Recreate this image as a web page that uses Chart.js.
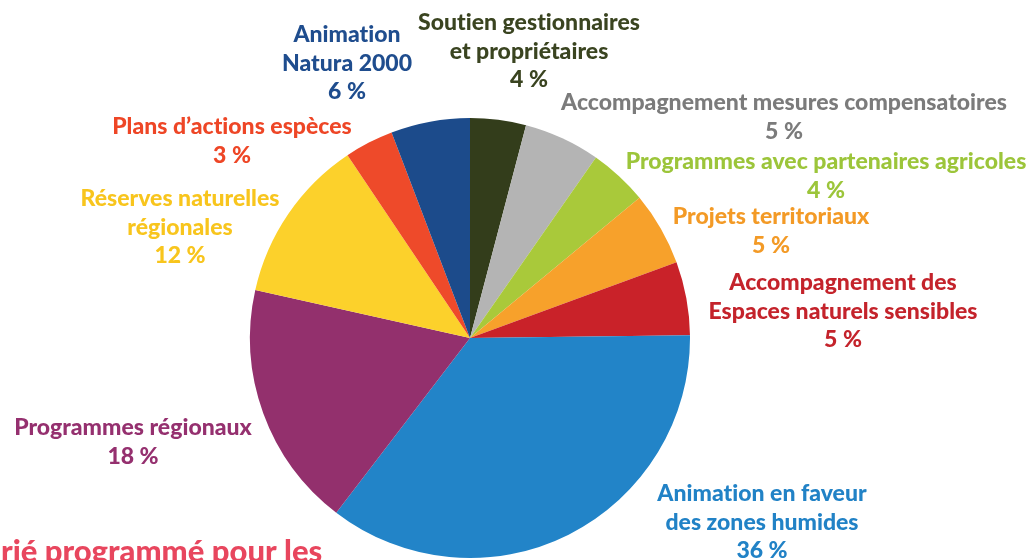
<!DOCTYPE html>
<html lang="fr">
<head>
  <meta charset="UTF-8">
  <title>Répartition</title>
  <style>
    html, body { margin: 0; padding: 0; background: #fff; }
    #wrap { width: 1032px; height: 560px; position: relative; }
  </style>
  <script src="https://cdn.jsdelivr.net/npm/chart.js"></script>
</head>
<body>
  <div id="wrap"><canvas id="camembert"></canvas></div>
  <script>
    // Catégories (dans l'ordre des aiguilles d'une montre, depuis midi)
    const categories = [
      ['Soutien gestionnaires', 'et propriétaires'],
      ['Accompagnement mesures compensatoires'],
      ['Programmes avec partenaires agricoles'],
      ['Projets territoriaux'],
      ['Accompagnement des', 'Espaces naturels sensibles'],
      ['Animation en faveur', 'des zones humides'],
      ['Programmes régionaux'],
      ['Réserves naturelles', 'régionales'],
      ['Plans d\u2019actions espèces'],
      ['Animation', 'Natura 2000']
    ];
    // Parts mesurées sur le graphique (%)
    const parts = [4.1, 5.6, 4.3, 5.4, 5.4, 35.6, 18.1, 12.1, 3.6, 5.8];
    // Pourcentages imprimés
    const pourcentages = [4, 5, 4, 5, 5, 36, 18, 12, 3, 6];

    const couleurs = ['#333d1b', '#b4b4b4', '#a9c93a', '#f7a12b', '#c92229', '#2284c8', '#93306d', '#fcd12b', '#ee4a2a', '#1c4b8b'];
    const couleursTexte = ['#3a4420', '#7b7b7b', '#9cc53a', '#f39a26', '#c4232b', '#2182c6', '#95306f', '#f8c51d', '#ee4626', '#1f4d8e'];

    // Emplacement des étiquettes : centre x, ligne de base de la 1re ligne
    const posEtiquettes = [
      [529, 30], [784, 110], [826, 169], [771, 224], [843, 290],
      [762, 501], [133, 435], [180, 206], [232, 134], [347, 42]
    ];
    const interligne = 28.5;

    const etiquettes = {
      id: 'etiquettes',
      afterDraw(chart) {
        const ctx = chart.ctx;
        ctx.save();
        ctx.font = '900 23px Lato';
        ctx.letterSpacing = '0.01px'; // pas de ligature « ti »
        ctx.textAlign = 'center';
        ctx.textBaseline = 'alphabetic';
        categories.forEach((lignes, i) => {
          const [x, y] = posEtiquettes[i];
          ctx.fillStyle = couleursTexte[i];
          const tout = lignes.concat([pourcentages[i] + ' %']);
          tout.forEach((t, k) => ctx.fillText(t, x, y + k * interligne));
        });
        // titre de la page, coupé en bas
        ctx.font = '900 31px Lato';
        ctx.textAlign = 'left';
        ctx.fillStyle = '#e8465e';
        ctx.fillText('rié programmé pour les', 1, 562);
        ctx.restore();
      }
    };

    new Chart(document.getElementById('camembert'), {
      type: 'pie',
      data: {
        labels: categories.map(l => l.join(' ')),
        datasets: [{
          data: parts,
          backgroundColor: couleurs,
          borderWidth: 0
        }]
      },
      options: {
        responsive: true,
        maintainAspectRatio: false,
        animation: false,
        layout: { padding: { left: 250, right: 342, top: 118, bottom: 2 } },
        plugins: {
          legend: { display: false },
          tooltip: { enabled: false }
        }
      },
      plugins: [etiquettes]
    });
  </script>
</body>
</html>
